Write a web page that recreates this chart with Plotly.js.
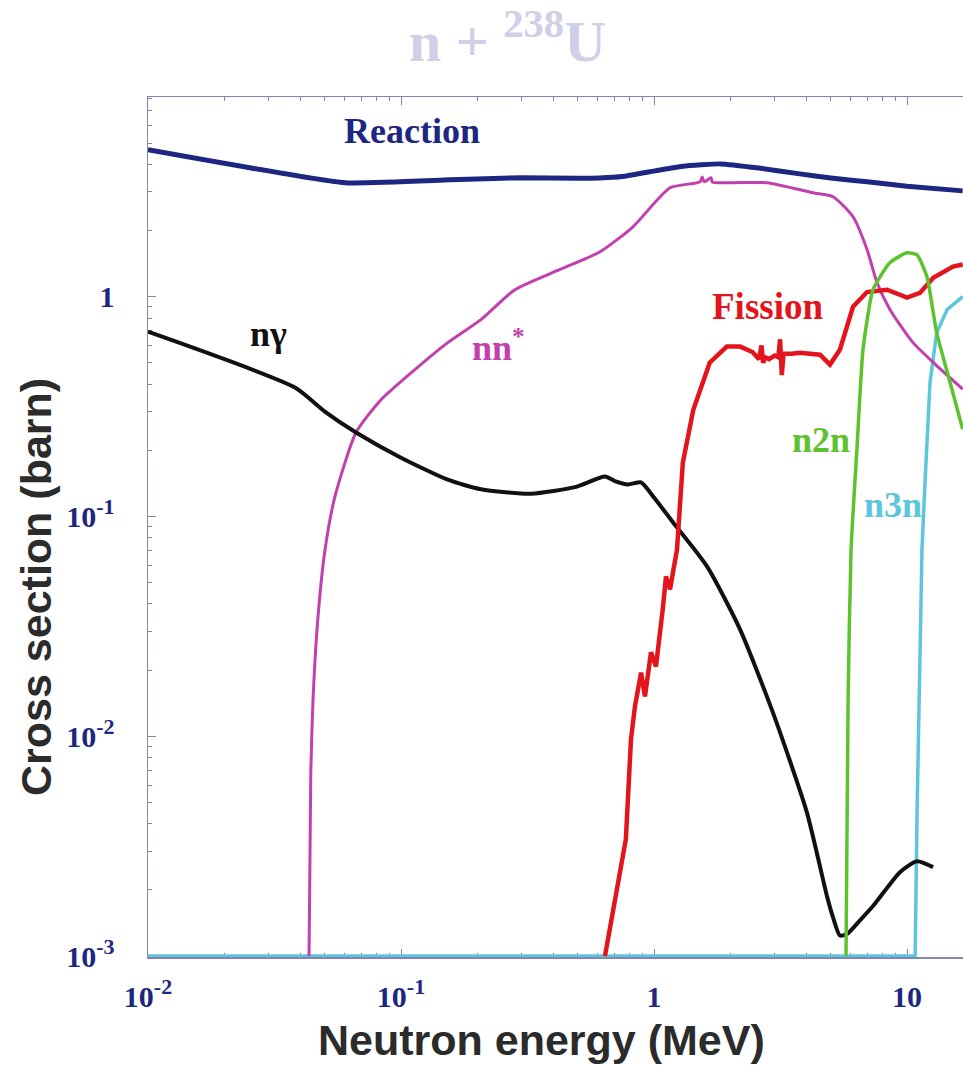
<!DOCTYPE html>
<html>
<head>
<meta charset="utf-8">
<script src="https://cdn.plot.ly/plotly-3.0.1.min.js"></script>
<style>html,body{margin:0;padding:0;background:#fff;overflow:hidden}#chart{width:963px;height:1066px}</style>
</head>
<body>
<div id="chart"></div>
<script>
// Energies in MeV, cross sections in barn
const reactionE = [0.01, 0.06, 0.156, 0.30, 0.50, 0.61, 0.75, 0.96, 1.3, 1.83, 2.6, 3.77, 5.0, 6.95, 10, 16.6];
const reactionS = [4.66, 3.30, 3.40, 3.48, 3.46, 3.47, 3.52, 3.70, 3.92, 4.02, 3.85, 3.62, 3.47, 3.33, 3.18, 3.03];

const ngE = [0.01, 0.0381, 0.05, 0.0664, 0.100, 0.153, 0.207, 0.327, 0.487, 0.640, 0.70, 0.789, 0.889, 1.0, 1.19, 1.62, 2.19, 2.95, 4.02, 4.83, 5.1, 5.43, 5.79, 6.5, 7.34, 9.38, 10.96, 12.68];
const ngS = [0.693, 0.386, 0.30, 0.241, 0.185, 0.147, 0.133, 0.127, 0.136, 0.152, 0.145, 0.140, 0.143, 0.122, 0.0939, 0.0593, 0.0306, 0.01285, 0.00451, 0.00187, 0.00150, 0.00124, 0.00126, 0.00145, 0.00169, 0.00241, 0.00270, 0.00254];

const nnE = [0.0433, 0.0440, 0.0449, 0.0470, 0.0501, 0.0548, 0.0664, 0.0834, 0.1135, 0.153, 0.207, 0.282, 0.425, 0.612, 0.826, 1.157, 1.52, 1.55, 1.58, 1.68, 1.70, 2.0, 2.8, 4.25, 5.10, 6.12, 6.95, 7.61, 8.57, 10.56, 13.0, 16.6];
const nnS = [0.001, 0.00686, 0.0147, 0.0351, 0.0708, 0.123, 0.241, 0.340, 0.466, 0.618, 0.786, 1.076, 1.33, 1.60, 2.08, 3.13, 3.33, 3.50, 3.33, 3.48, 3.32, 3.30, 3.30, 2.97, 2.85, 2.31, 1.64, 1.16, 0.873, 0.618, 0.49, 0.38];

const fisE = [0.640, 0.774, 0.811, 0.841, 0.889, 0.921, 0.973, 1.018, 1.086, 1.115, 1.157, 1.233, 1.30, 1.43, 1.66, 1.94, 2.19, 2.45, 2.60, 2.66, 2.70, 2.75, 2.85, 3.0, 3.10, 3.15, 3.20, 3.25, 3.5, 3.77, 4.53, 4.96, 5.43, 6.12, 6.95, 8.34, 10.0, 11.25, 12.7, 15.2, 16.6];
const fisS = [0.001, 0.0034, 0.00969, 0.0137, 0.0195, 0.0152, 0.0241, 0.0208, 0.039, 0.0534, 0.0466, 0.0708, 0.176, 0.306, 0.501, 0.593, 0.593, 0.56, 0.52, 0.60, 0.50, 0.53, 0.52, 0.54, 0.53, 0.64, 0.44, 0.55, 0.55, 0.556, 0.545, 0.491, 0.574, 0.901, 1.05, 1.076, 0.99, 1.04, 1.22, 1.37, 1.40];

const n2nE = [5.74, 5.85, 6.01, 6.34, 6.70, 7.34, 8.57, 10.0, 10.96, 12.0, 13.1, 14.8, 16.6];
const n2nS = [0.001, 0.0147, 0.0708, 0.202, 0.574, 1.076, 1.43, 1.585, 1.55, 1.23, 0.686, 0.407, 0.249];

const n3nE = [0.01, 10.77, 10.96, 11.25, 11.46, 11.78, 12.33, 13.1, 14.4, 16.6];
const n3nS = [0.001, 0.001, 0.00451, 0.0256, 0.0708, 0.143, 0.407, 0.686, 0.873, 1.0];

const SUP = '<sup><span style="font-size:22px">';
const xTickVals = [0.01, 0.1, 1, 10];
const xTickText = ['10' + SUP + '-2</span></sup>', '10' + SUP + '-1</span></sup>', '1', '10'];
const yTickVals = [0.001, 0.01, 0.1, 1];
const yTickText = ['10' + SUP + '-3</span></sup>', '10' + SUP + '-2</span></sup>', '10' + SUP + '-1</span></sup>', '1'];

const axisCol = '#8585b5';
const navy = '#1d2680';
const serif = 'Liberation Serif, Times New Roman, serif';
const sans = 'Liberation Sans, Arial, sans-serif';

function tr(x, y, color, width, smooth) {
  const line = {color: color, width: width};
  if (smooth) { line.shape = 'spline'; line.smoothing = smooth; }
  return {x: x, y: y, type: 'scatter', mode: 'lines', line: line, hoverinfo: 'skip', showlegend: false};
}
const data = [
  tr(n3nE, n3nS, '#5cc6de', 3.5),
  tr(nnE, nnS, '#c23fae', 3, 0.6),
  tr(ngE, ngS, '#111111', 4, 0.6),
  tr(fisE, fisS, '#e3141c', 4.5),
  tr(n2nE, n2nS, '#5ec22e', 3.5, 0.5),
  tr(reactionE, reactionS, navy, 5, 0.4)
];

const L = 148, T = 97, B = 957, W = 963;
function px(x) { return (x - L) / (W - L); }
function py(y) { return (B - y) / (B - T); }
function lab(text, x, y, color, size, family, angle) {
  return {text: text, xref: 'paper', yref: 'paper', x: px(x), y: py(y), xanchor: 'center', yanchor: 'middle', showarrow: false,
    textangle: angle || 0, font: {family: family || serif, size: size, color: color, weight: 'bold'}};
}

const layout = {
  width: 963, height: 1066,
  margin: {l: L, r: 0, t: T, b: 1066 - B},
  paper_bgcolor: '#ffffff', plot_bgcolor: '#ffffff',
  title: {text: 'n + <sup>238</sup>U', font: {family: serif, size: 58, color: '#cfcfe8', weight: 'bold'},
    xref: 'container', yref: 'container', x: 0.527, xanchor: 'center', y: 1 - 41 / 1066, yanchor: 'middle'},
  xaxis: {
    type: 'log', range: [-2, -2 + (W - L) / 253], autorange: false,
    showgrid: false, zeroline: false, showline: true, linecolor: axisCol, linewidth: 1.5, mirror: 'ticks',
    ticks: 'inside', ticklen: 8, tickcolor: axisCol, tickwidth: 1,
    tickvals: xTickVals, ticktext: xTickText, ticklabelstandoff: 12,
    minor: {ticks: 'inside', ticklen: 4, tickcolor: axisCol, dtick: 'D1', showgrid: false},
    tickfont: {family: serif, size: 30, color: navy, weight: 'bold'},
    layer: 'below traces'
  },
  yaxis: {
    type: 'log', range: [-3.004, Math.log10(8.1)], autorange: false,
    showgrid: false, zeroline: false, showline: true, linecolor: axisCol, linewidth: 1.5, mirror: false,
    ticks: 'inside', ticklen: 8, tickcolor: axisCol, tickwidth: 1,
    tickvals: yTickVals, ticktext: yTickText, ticklabelstandoff: 26,
    minor: {ticks: 'inside', ticklen: 4, tickcolor: axisCol, dtick: 'D1', showgrid: false},
    tickfont: {family: serif, size: 30, color: navy, weight: 'bold'},
    layer: 'below traces'
  },
  annotations: [
    {text: 'Neutron energy (MeV)', xref: 'paper', yref: 'paper', x: px(541), y: py(1040), xanchor: 'center', yanchor: 'middle',
      showarrow: false, font: {family: sans, size: 43, color: '#2b2b2b', weight: 'bold'}},
    {text: 'Cross section (barn)', xref: 'paper', yref: 'paper', x: px(36), y: py(587), xanchor: 'center', yanchor: 'middle',
      showarrow: false, textangle: -90, font: {family: sans, size: 43, color: '#2b2b2b', weight: 'bold'}},
    lab('Reaction', 412, 131, navy, 36),
    lab('nγ', 268, 334, '#111111', 36),
    lab('nn<sup>*</sup>', 498, 345, '#c23fae', 36),
    lab('Fission', 767, 306, '#e3141c', 37),
    lab('n2n', 821, 440, '#5ec22e', 36),
    lab('n3n', 893, 505, '#5cc6de', 36)
  ]
};

Plotly.newPlot('chart', data, layout, {displayModeBar: false, staticPlot: true});
</script>
</body>
</html>
